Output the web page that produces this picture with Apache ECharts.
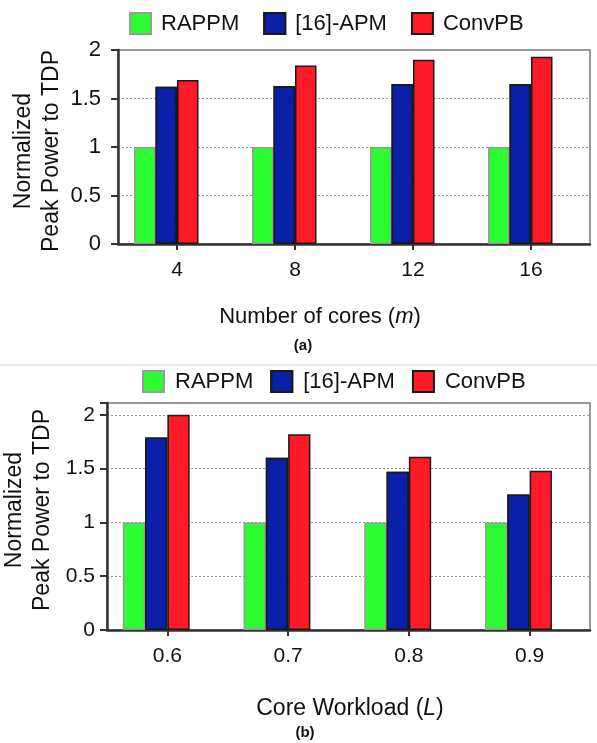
<!DOCTYPE html>
<html>
<head>
<meta charset="utf-8">
<script src="https://cdn.jsdelivr.net/npm/echarts@6/dist/echarts.min.js"></script>
<style>
html,body{margin:0;padding:0;background:#fff;}
#c{width:597px;height:743px;}
</style>
</head>
<body>
<div id="c"></div>
<script>
// ---- data ----
const seriesNames = ['RAPPM', '[16]-APM', 'ConvPB'];
const coresCats = ['4', '8', '12', '16'];
const coresRAPPM = [1, 1, 1, 1];
const coresAPM = [1.62, 1.63, 1.65, 1.65];
const coresConvPB = [1.69, 1.84, 1.90, 1.93];
const loadCats = ['0.6', '0.7', '0.8', '0.9'];
const loadRAPPM = [1, 1, 1, 1];
const loadAPM = [1.79, 1.60, 1.47, 1.26];
const loadConvPB = [2.0, 1.82, 1.61, 1.48];
const yTicks = [0, 0.5, 1, 1.5, 2];

const FONT = 'Liberation Sans, Arial, sans-serif';
const colors = ['#2cfd30', '#0b21b3', '#fe1a26'];
const borders = ['#9a9a9a', '#1a1a1a', '#1a1a1a'];

const chart = echarts.init(document.getElementById('c'), null, {renderer: 'canvas'});

function yAxisCfg(gridIndex, max) {
  return {
    type: 'value', gridIndex: gridIndex, min: 0, max: max, interval: 0.5,
    axisLine: {show: true, lineStyle: {color: '#333', width: 2.5}},
    axisTick: {show: true, length: 7, lineStyle: {color: '#333', width: 2}},
    axisLabel: {
      fontFamily: FONT, fontSize: gridIndex === 0 ? 22 : 21, color: '#111', margin: gridIndex === 0 ? 17 : 12,
      formatter: function (v) {
        for (const t of yTicks) { if (Math.abs(v - t) < 1e-6) return String(t); }
        return '';
      }
    },
    splitLine: {show: true, lineStyle: {color: '#999', type: [2, 2], width: 1}}
  };
}
function xAxisCfg(gridIndex, cats) {
  return {
    type: 'category', gridIndex: gridIndex, data: cats,
    axisLine: {show: true, lineStyle: {color: '#333', width: 2.5}},
    axisTick: {show: true, alignWithLabel: true, length: 6, lineStyle: {color: '#333', width: 2}},
    axisLabel: {fontFamily: FONT, fontSize: 21, color: '#111', margin: 16},
    splitLine: {show: false}
  };
}
const decal = {symbol: 'rect', symbolSize: 1, dashArrayX: [1, 0], dashArrayY: [1, 2], rotation: -Math.PI / 4, color: 'rgba(0,0,0,0.18)'};
function barSeries(i, axisIdx, data, bw) {
  const s = {
    name: seriesNames[i], type: 'bar', xAxisIndex: axisIdx, yAxisIndex: axisIdx,
    data: data, barWidth: bw, barGap: '0%',
    itemStyle: {color: colors[i], borderColor: borders[i], borderWidth: 1.5},
    emphasis: {disabled: true}
  };
  if (i === 1) s.itemStyle.decal = decal;
  return s;
}
function phantom(axisIdx, bw) {
  return {name: '_pad', type: 'bar', xAxisIndex: axisIdx, yAxisIndex: axisIdx,
    data: ['-', '-', '-', '-'], barWidth: bw, barGap: '0%', silent: true,
    itemStyle: {color: 'transparent'}};
}
function legendCfg(left, top, gap, pad) {
  return {
    data: seriesNames, left: left, top: top, orient: 'horizontal', padding: 0,
    itemWidth: 21, itemHeight: 21, itemGap: gap, icon: 'rect', selectedMode: false,
    textStyle: {fontFamily: FONT, fontSize: 22, color: '#111', lineHeight: 21, padding: [0, 0, 0, pad]}
  };
}
function yName(x, y) {
  return {type: 'text', x: x, y: y, rotation: Math.PI / 2, style: {
    text: 'Normalized\nPeak Power to TDP', align: 'center', verticalAlign: 'middle',
    fontFamily: FONT, fontSize: 23, lineHeight: 28, fill: '#111'
  }};
}

const option = {
  animation: false,
  backgroundColor: '#fff',
  legend: [legendCfg(129, 12, 24, 5), legendCfg(142, 370, 17, 6)],
  grid: [
    {left: 118, right: 7, top: 50, bottom: 743 - 244, show: true, borderColor: '#999', borderWidth: 2, backgroundColor: 'transparent', containLabel: false, outerBoundsMode: 'none'},
    {left: 107, right: 7, top: 403, bottom: 743 - 630, show: true, borderColor: '#999', borderWidth: 2, backgroundColor: 'transparent', containLabel: false, outerBoundsMode: 'none'}
  ],
  xAxis: [xAxisCfg(0, coresCats), xAxisCfg(1, loadCats)],
  yAxis: [yAxisCfg(0, 2), yAxisCfg(1, 2.11)],
  series: [
    barSeries(0, 0, coresRAPPM, 21.5), barSeries(1, 0, coresAPM, 21.5), barSeries(2, 0, coresConvPB, 21.5), phantom(0, 21.5),
    barSeries(0, 1, loadRAPPM, 22.3), barSeries(1, 1, loadAPM, 22.3), barSeries(2, 1, loadConvPB, 22.3), phantom(1, 22.3)
  ],
  graphic: [
    {type: 'line', shape: {x1: 0, y1: 365, x2: 597, y2: 365}, style: {stroke: '#e2e2e2', lineWidth: 1.5}},
    yName(38, 151),
    yName(29, 510),
    {type: 'text', x: 320, y: 317, style: {
      text: '{a|Number of cores (}{i|m}{a|)}', align: 'center', verticalAlign: 'middle',
      rich: {a: {fontFamily: FONT, fontSize: 22, fill: '#111'}, i: {fontFamily: FONT, fontSize: 22, fontStyle: 'italic', fill: '#111'}}
    }},
    {type: 'text', x: 303, y: 346, style: {text: '(a)', align: 'center', verticalAlign: 'middle', fontFamily: FONT, fontSize: 15, fontWeight: 'bold', fill: '#111'}},
    {type: 'text', x: 350, y: 709, style: {
      text: '{a|Core Workload (}{i|L}{a|)}', align: 'center', verticalAlign: 'middle',
      rich: {a: {fontFamily: FONT, fontSize: 23, fill: '#111'}, i: {fontFamily: FONT, fontSize: 23, fontStyle: 'italic', fill: '#111'}}
    }},
    {type: 'text', x: 305, y: 733, style: {text: '(b)', align: 'center', verticalAlign: 'middle', fontFamily: FONT, fontSize: 15, fontWeight: 'bold', fill: '#111'}}
  ]
};
chart.setOption(option);
</script>
</body>
</html>
